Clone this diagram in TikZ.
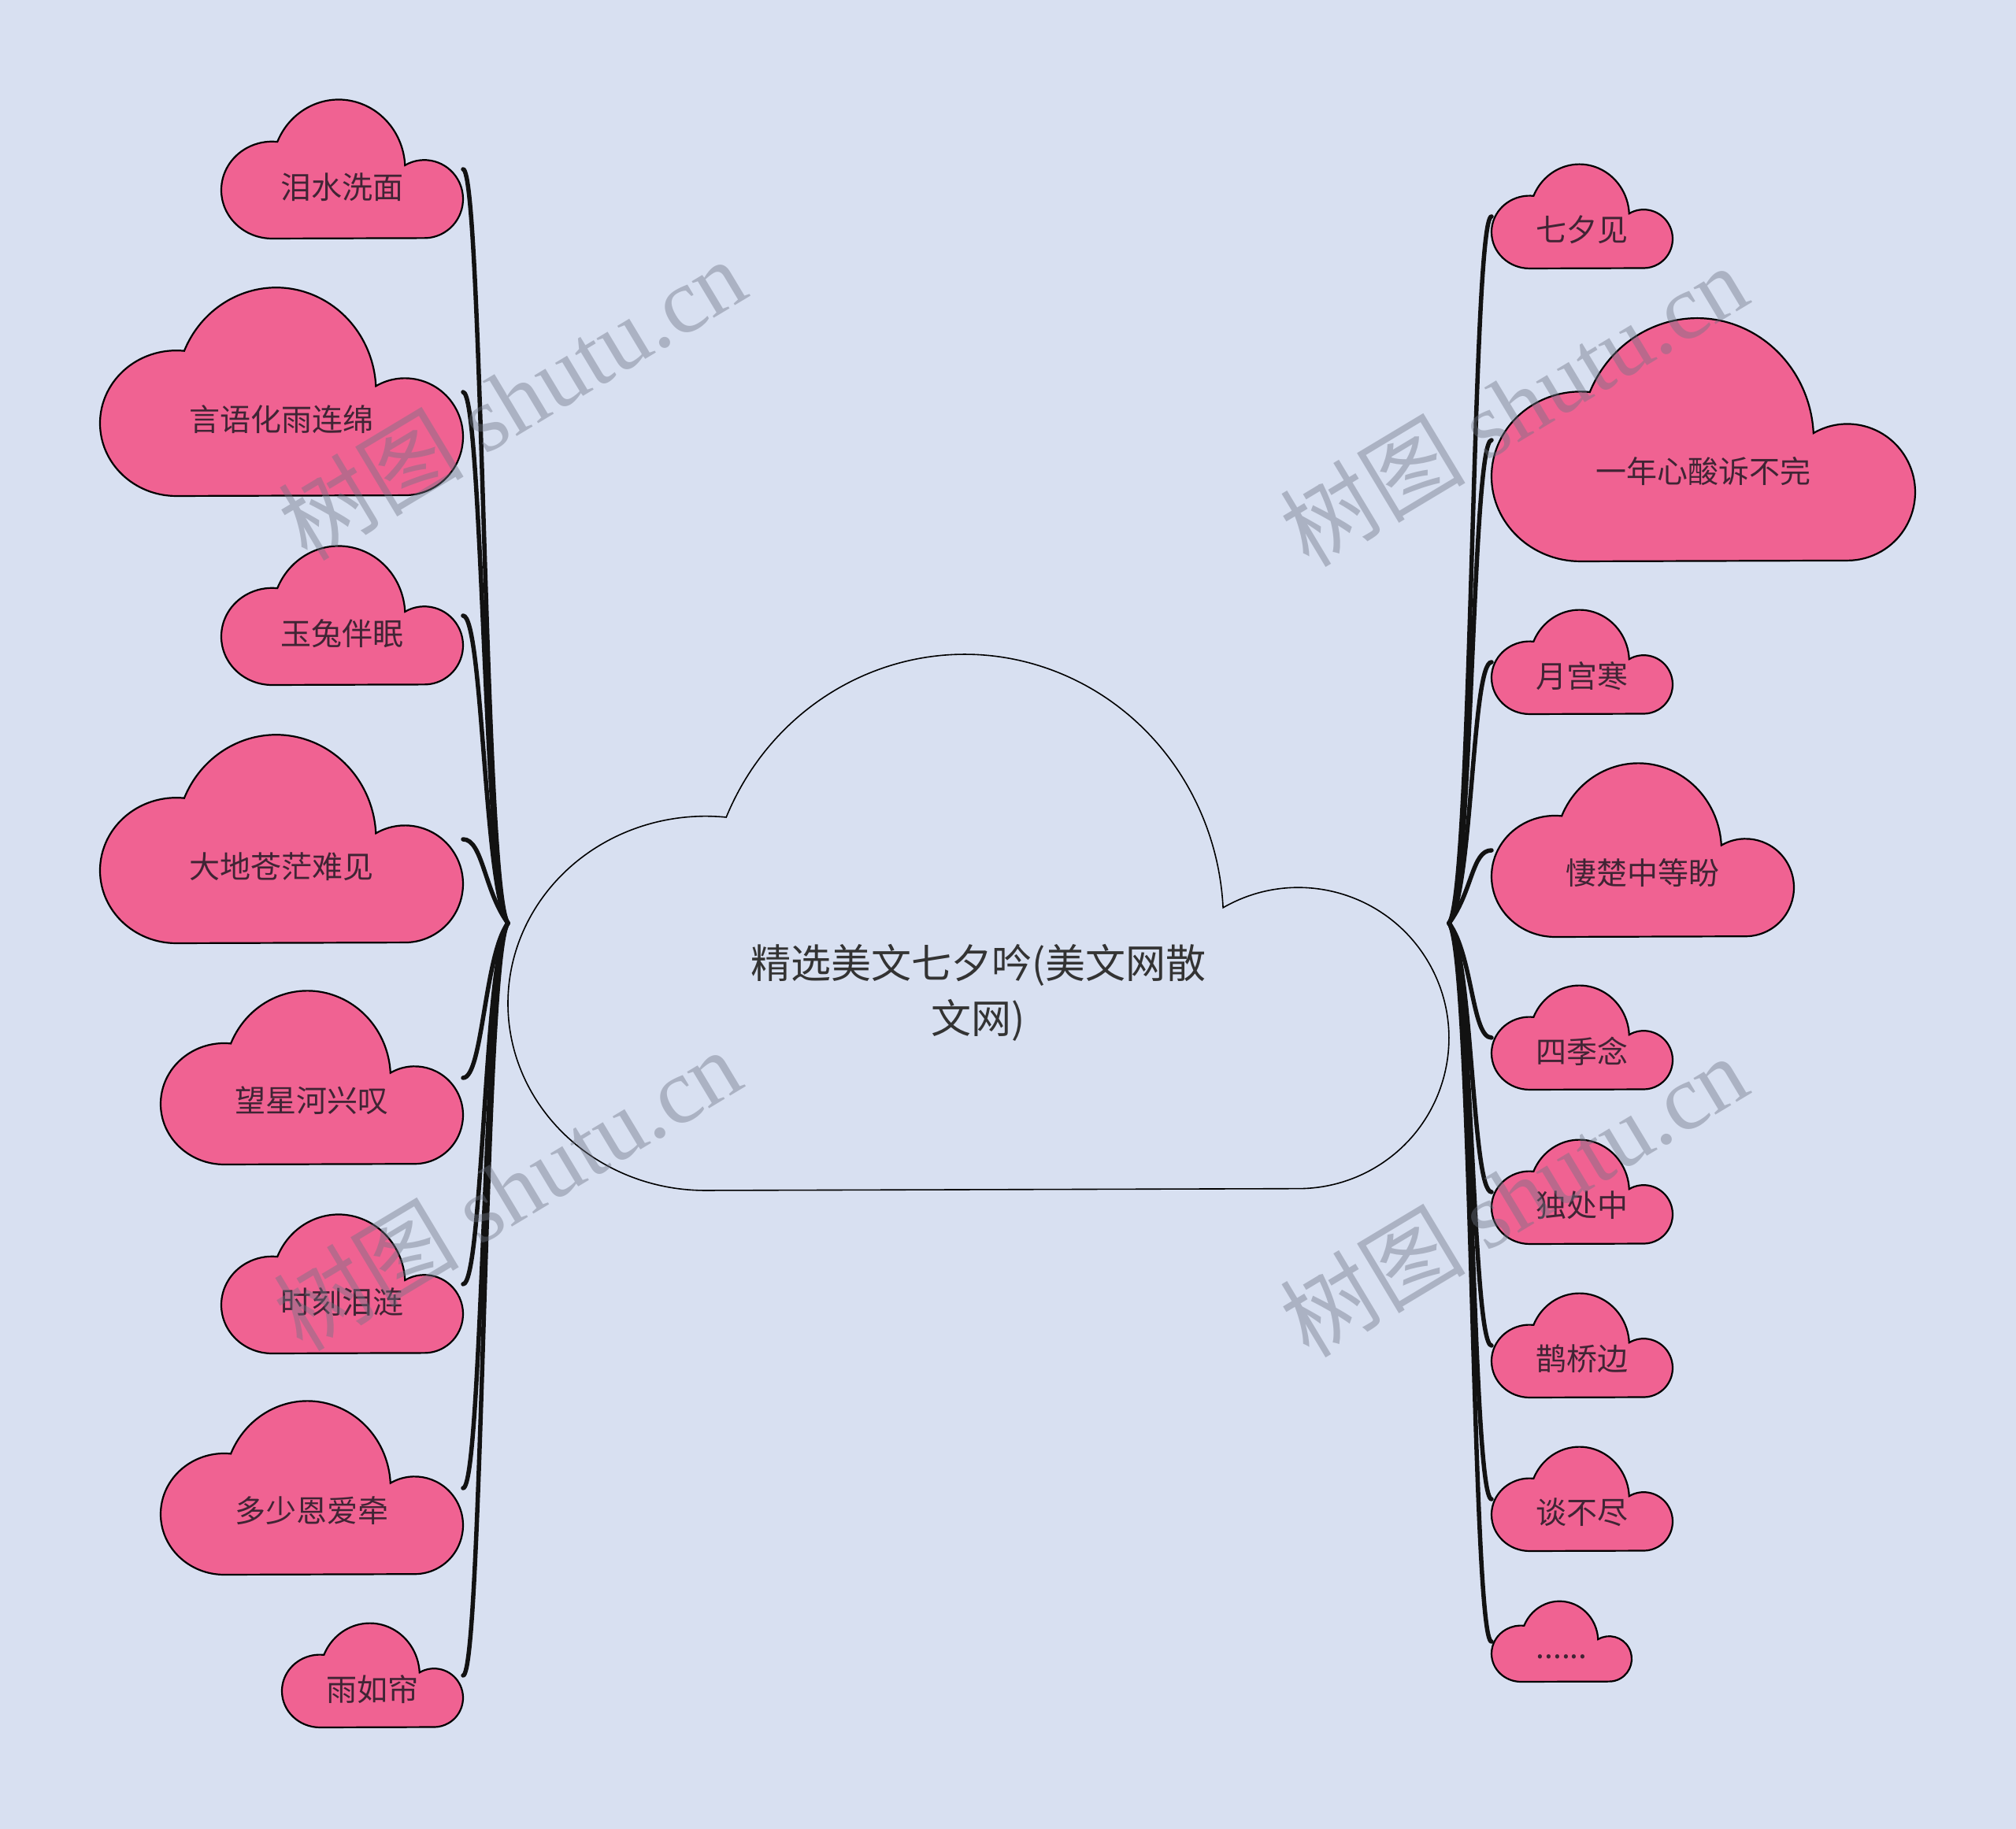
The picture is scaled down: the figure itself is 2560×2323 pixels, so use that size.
\documentclass[tikz,border=0pt]{standalone}
\usepackage{fontspec}
\setmainfont{Noto Sans CJK SC}
\newfontfamily\wmlatin{Liberation Serif}
\definecolor{bg}{RGB}{216,224,241}
\definecolor{pinkfill}{RGB}{240,98,146}
\definecolor{pinktext}{RGB}{64,36,52}
\definecolor{maintext}{RGB}{51,51,51}
\definecolor{wm}{RGB}{110,116,132}
\tikzset{
  pinkcloud/.style={fill=pinkfill, draw=black, line width=2.2pt},
  maincloud/.style={fill=bg, draw=black, line width=1.6pt},
  pinklabel/.style={text=pinktext, font=\fontsize{39}{47}\selectfont, inner sep=0pt},
  mainlabel/.style={text=maintext, font=\fontsize{51}{70}\selectfont, align=center, inner sep=0pt},
  conn/.style={draw=black!93, line width=5.5pt, line cap=round},
  wmark/.style={text=wm, opacity=0.42, rotate=31, font=\fontsize{118}{118}\selectfont, inner sep=0pt}
}
% #1 name, #2 x left, #3 y top (pixels, downwards), #4 width, #5 height, #6 cloud style, #7 label style, #8 text
\newcommand\mycloud[8]{%
  \pgfmathsetmacro\cb{2323-#3-#5}%
  \pgfmathsetmacro\ax{#2+0.21*#4}%
  \pgfmathsetmacro\lrx{0.21*#4}%
  \pgfmathsetmacro\lry{0.35*#5}%
  \pgfmathsetmacro\brx{0.2751*#4}%
  \pgfmathsetmacro\bry{0.5*#5}%
  \pgfmathsetmacro\rrx{0.16*#4}%
  \pgfmathsetmacro\rry{0.2816*#5}%
  \path[#6] (\ax,\cb)
     arc[start angle=270,end angle=84,x radius=\lrx pt,y radius=\lry pt]
     arc[start angle=157,end angle=3,x radius=\brx pt,y radius=\bry pt]
     arc[start angle=120,end angle=-90,x radius=\rrx pt,y radius=\rry pt] -- cycle;
  \coordinate (#1L) at (#2,{2323-#3-0.5*#5});
  \coordinate (#1R) at ({#2+#4},{2323-#3-0.5*#5});
  \node[#7] (#1) at ({#2+0.5*#4},{2323-#3-0.63*#5}) {#8};
}
\begin{document}
\begin{tikzpicture}[x=1pt,y=1pt]
\fill[bg] (0,0) rectangle (2560,2323);
\useasboundingbox (0,0) rectangle (2560,2323);

% central cloud
\mycloud{c}{645}{833}{1195}{679}{maincloud}{mainlabel}{精选美文七夕吟(美文网散\\文网)}

% left clouds
\mycloud{la}{281}{127}{307}{176}{pinkcloud}{pinklabel}{泪水洗面}
\mycloud{lb}{127}{366}{461}{264}{pinkcloud}{pinklabel}{言语化雨连绵}
\mycloud{lc}{281}{694}{307}{176}{pinkcloud}{pinklabel}{玉兔伴眠}
\mycloud{ld}{127}{934}{461}{264}{pinkcloud}{pinklabel}{大地苍茫难见}
\mycloud{le}{204}{1259}{384}{220}{pinkcloud}{pinklabel}{望星河兴叹}
\mycloud{lf}{281}{1543}{307}{176}{pinkcloud}{pinklabel}{时刻泪涟}
\mycloud{lg}{204}{1780}{384}{220}{pinkcloud}{pinklabel}{多少恩爱牵}
\mycloud{lh}{358}{2062}{230}{132}{pinkcloud}{pinklabel}{雨如帘}

% right clouds
\mycloud{ra}{1894}{209}{230}{132}{pinkcloud}{pinklabel}{七夕见}
\mycloud{rb}{1894}{405}{538}{308}{pinkcloud}{pinklabel}{一年心酸诉不完}
\mycloud{rc}{1894}{775}{230}{132}{pinkcloud}{pinklabel}{月宫寒}
\mycloud{rd}{1894}{970}{384}{220}{pinkcloud}{pinklabel}{悽楚中等盼}
\mycloud{re}{1894}{1252}{230}{132}{pinkcloud}{pinklabel}{四季念}
\mycloud{rf}{1894}{1448}{230}{132}{pinkcloud}{pinklabel}{独处中}
\mycloud{rg}{1894}{1643}{230}{132}{pinkcloud}{pinklabel}{鹊桥边}
\mycloud{rh}{1894}{1838}{230}{132}{pinkcloud}{pinklabel}{谈不尽}
\mycloud{ri}{1894}{2034}{178}{102}{pinkcloud}{pinklabel,yshift=-6pt}{......}

% connectors left
\foreach \n in {la,lb,lc,ld}
  \draw[conn] (\n R) .. controls +(25,0) and +(-30,40) .. (cL);
\foreach \n in {le,lf,lg,lh}
  \draw[conn] (\n R) .. controls +(25,0) and +(-30,-40) .. (cL);
% connectors right
\foreach \n in {ra,rb,rc,rd}
  \draw[conn] (\n L) .. controls +(-25,0) and +(30,40) .. (cR);
\foreach \n in {re,rf,rg,rh,ri}
  \draw[conn] (\n L) .. controls +(-25,0) and +(30,-40) .. (cR);

% watermarks
\node[wmark] (wm1) at (650,1817) {树图 {\wmlatin shutu.cn}};
\node[wmark] (wm2) at (1922,1809) {树图 {\wmlatin shutu.cn}};
\node[wmark] (wm3) at (644,813) {树图 {\wmlatin shutu.cn}};
\node[wmark] (wm4) at (1922,805) {树图 {\wmlatin shutu.cn}};
\end{tikzpicture}
\end{document}
